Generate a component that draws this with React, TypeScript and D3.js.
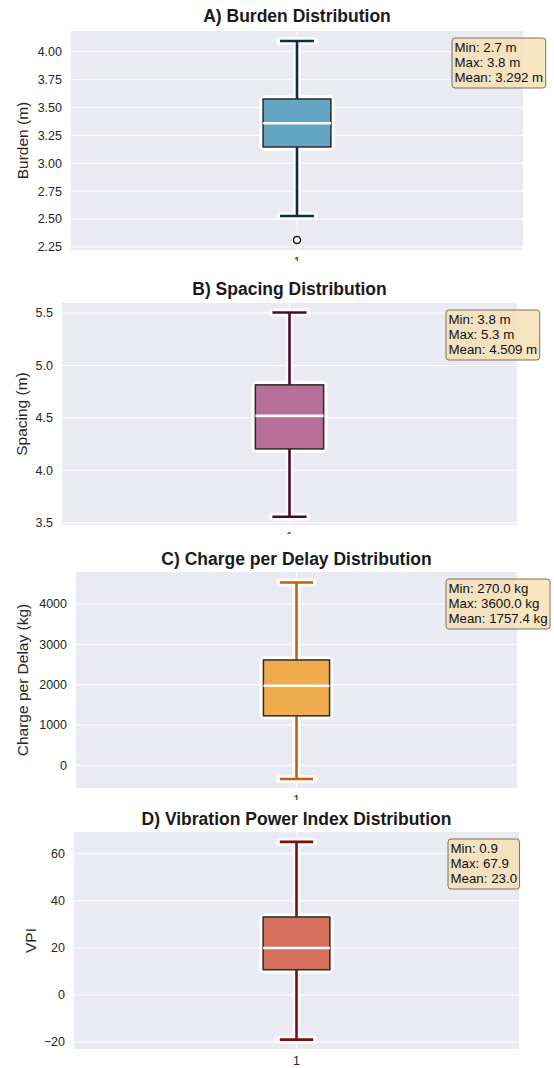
import React, { useEffect, useRef } from 'react';
import * as d3 from 'd3';

// panel texts
const panelTitles = [
  'A) Burden Distribution',
  'B) Spacing Distribution',
  'C) Charge per Delay Distribution',
  'D) Vibration Power Index Distribution'
];
const yLabels = ['Burden (m)', 'Spacing (m)', 'Charge per Delay (kg)', 'VPI'];

// box statistics
const whiskerLow = [2.528, 3.557, -341, -19.0];
const q1Values = [3.146, 4.204, 1227, 10.7];
const medianValues = [3.358, 4.519, 1974, 19.9];
const q3Values = [3.576, 4.815, 2613, 33.1];
const whiskerHigh = [4.096, 5.506, 4538, 65.0];
const outliers = [[2.313], [], [], []];

// axis limits and ticks
const yMin = [2.223, 3.478, -565, -22.97];
const yMax = [4.185, 5.596, 4797, 69.2];
const yTicks = [
  [2.25, 2.5, 2.75, 3.0, 3.25, 3.5, 3.75, 4.0],
  [3.5, 4.0, 4.5, 5.0, 5.5],
  [0, 1000, 2000, 3000, 4000],
  [-20, 0, 20, 40, 60]
];
const tickDecimals = [2, 1, 0, 0];
const xTickLabels = ['1'];

// stats annotation
const minLabels = ['Min: 2.7 m', 'Min: 3.8 m', 'Min: 270.0 kg', 'Min: 0.9'];
const maxLabels = ['Max: 3.8 m', 'Max: 5.3 m', 'Max: 3600.0 kg', 'Max: 67.9'];
const meanLabels = ['Mean: 3.292 m', 'Mean: 4.509 m', 'Mean: 1757.4 kg', 'Mean: 23.0'];

const fillColors = ['#64a5c4', '#b76e97', '#efab4c', '#d4705c'];
const whiskerColors = ['#0d2b4a', '#4a0b28', '#c0600e', '#7a0f0f'];

// panel frames (layout); the source image cuts off most x tick labels
const frames = [
  { left: 71, right: 523, top: 31, bottom: 250, clipTop: 0, clipBottom: 261, titleY: 22, labelX: 27.5 },
  { left: 62, right: 517, top: 303, bottom: 525, clipTop: 261, clipBottom: 534, titleY: 295, labelX: 26.5 },
  { left: 76, right: 517, top: 572, bottom: 788, clipTop: 534, clipBottom: 800, titleY: 565, labelX: 28.3 },
  { left: 74, right: 519, top: 832, bottom: 1049, clipTop: 800, clipBottom: 1068, titleY: 825, labelX: 36 }
];

const FONT = '"Liberation Sans", Arial, sans-serif';

const App = () => {
  const ref = useRef<SVGSVGElement | null>(null);

  useEffect(() => {
    if (!ref.current) return;
    const svg = d3.select(ref.current);
    svg.selectAll('*').remove();

    const defs = svg.append('defs');

    frames.forEach((f, i) => {
      defs.append('clipPath').attr('id', `clip-${i}`)
        .append('rect')
        .attr('x', 0).attr('y', f.clipTop)
        .attr('width', 554).attr('height', f.clipBottom - f.clipTop);

      const g = svg.append('g').attr('clip-path', `url(#clip-${i})`);

      const x = d3.scaleLinear().domain([0.5, 1.5]).range([f.left, f.right]);
      const y = d3.scaleLinear().domain([yMin[i], yMax[i]]).range([f.bottom, f.top]);

      // background
      g.append('rect')
        .attr('x', f.left).attr('y', f.top)
        .attr('width', f.right - f.left).attr('height', f.bottom - f.top)
        .attr('fill', '#eaeaf2');

      // grid
      g.append('g').selectAll('line')
        .data(yTicks[i])
        .enter().append('line')
        .attr('x1', f.left).attr('x2', f.right)
        .attr('y1', d => y(d)).attr('y2', d => y(d))
        .attr('stroke', '#ffffff').attr('stroke-width', 1);
      g.append('line')
        .attr('x1', x(1)).attr('x2', x(1))
        .attr('y1', f.top).attr('y2', f.bottom)
        .attr('stroke', '#ffffff').attr('stroke-width', 1);

      // y tick labels
      const fmt = (v: number) => d3.format(`.${tickDecimals[i]}f`)(v).replace('-', '\u2212');
      g.append('g').selectAll('text')
        .data(yTicks[i])
        .enter().append('text')
        .attr('x', f.left - 9)
        .attr('y', d => y(d))
        .attr('dy', '0.35em')
        .attr('text-anchor', 'end')
        .style('font-family', FONT).style('font-size', '12.5px')
        .attr('fill', '#262626')
        .text(d => fmt(d));

      // x tick label
      g.append('g').selectAll('text')
        .data(xTickLabels)
        .enter().append('text')
        .attr('x', (d, k) => x(k + 1))
        .attr('y', f.bottom + 16)
        .attr('text-anchor', 'middle')
        .style('font-family', FONT).style('font-size', '12.5px')
        .attr('fill', '#262626')
        .text(d => d);

      // y label
      g.append('text')
        .attr('transform', `translate(${f.labelX},${(f.top + f.bottom) / 2}) rotate(-90)`)
        .attr('text-anchor', 'middle')
        .style('font-family', FONT).style('font-size', '15.5px')
        .attr('fill', '#262626')
        .text(yLabels[i]);

      // title
      g.append('text')
        .attr('x', (f.left + f.right) / 2)
        .attr('y', f.titleY)
        .attr('text-anchor', 'middle')
        .style('font-family', FONT).style('font-size', '17.5px').style('font-weight', 'bold')
        .attr('fill', '#1a1a1a')
        .text(panelTitles[i]);

      // box plot
      const cx = x(1);
      const bw = x(1.075) - x(0.925);
      const capW = bw / 2;
      const box = g.append('g');

      const whiskerSegs = [
        [whiskerLow[i], q1Values[i]],
        [q3Values[i], whiskerHigh[i]]
      ];
      const caps = [whiskerLow[i], whiskerHigh[i]];

      // white halo
      const halo = box.append('g').attr('stroke', '#ffffff').attr('stroke-opacity', 0.85).attr('fill', 'none');
      whiskerSegs.forEach(s => {
        halo.append('line').attr('x1', cx).attr('x2', cx).attr('y1', y(s[0])).attr('y2', y(s[1]))
          .attr('stroke-width', 8).attr('stroke-linecap', 'round');
      });
      caps.forEach(c => {
        halo.append('line').attr('x1', cx - capW / 2).attr('x2', cx + capW / 2).attr('y1', y(c)).attr('y2', y(c))
          .attr('stroke-width', 8).attr('stroke-linecap', 'round');
      });
      halo.append('rect')
        .attr('x', cx - bw / 2).attr('y', y(q3Values[i]))
        .attr('width', bw).attr('height', y(q1Values[i]) - y(q3Values[i]))
        .attr('rx', 2)
        .attr('stroke-width', 8);

      // whiskers and caps
      whiskerSegs.forEach(s => {
        box.append('line').attr('x1', cx).attr('x2', cx).attr('y1', y(s[0])).attr('y2', y(s[1]))
          .attr('stroke', whiskerColors[i]).attr('stroke-width', 2.6);
      });
      caps.forEach(c => {
        box.append('line').attr('x1', cx - capW / 2).attr('x2', cx + capW / 2).attr('y1', y(c)).attr('y2', y(c))
          .attr('stroke', whiskerColors[i]).attr('stroke-width', 2.6);
      });

      // box
      box.append('rect')
        .attr('x', cx - bw / 2).attr('y', y(q3Values[i]))
        .attr('width', bw).attr('height', y(q1Values[i]) - y(q3Values[i]))
        .attr('fill', fillColors[i])
        .attr('stroke', '#2a2a2a').attr('stroke-width', 1.5);

      // median
      box.append('line')
        .attr('x1', cx - bw / 2).attr('x2', cx + bw / 2)
        .attr('y1', y(medianValues[i])).attr('y2', y(medianValues[i]))
        .attr('stroke', '#ffffff').attr('stroke-width', 2.6);

      // outliers
      box.selectAll('circle.out')
        .data(outliers[i])
        .enter().append('circle')
        .attr('class', 'out')
        .attr('cx', cx).attr('cy', d => y(d)).attr('r', 3.5)
        .attr('fill', '#ffffff').attr('stroke', '#1a1a1a').attr('stroke-width', 1.5);

      // stats annotation
      const ann = g.append('g');
      const annX = f.right - 71;
      const annY = f.top + 7;
      const annRect = ann.append('rect')
        .attr('x', annX).attr('y', annY)
        .attr('height', 50).attr('rx', 3)
        .attr('fill', '#f5deb3').attr('fill-opacity', 0.8)
        .attr('stroke', '#7d705a').attr('stroke-width', 1);
      const lines = [minLabels[i], maxLabels[i], meanLabels[i]];
      const texts = ann.selectAll('text')
        .data(lines)
        .enter().append('text')
        .attr('x', annX + 2.5)
        .attr('y', (d, k) => annY + 13.5 + k * 15)
        .style('font-family', FONT).style('font-size', '13.3px')
        .attr('fill', '#111111')
        .text(d => d);
      let maxW = 0;
      texts.each(function () {
        const w = (this as SVGTextElement).getComputedTextLength();
        if (w > maxW) maxW = w;
      });
      annRect.attr('width', maxW + 5);
    });

    return () => {
      if (ref.current) d3.select(ref.current).selectAll('*').remove();
    };
  }, []);

  return (
    <div style={{ position: 'absolute', left: 0, top: 0 }}>
      <svg ref={ref} width={554} height={1068} style={{ display: 'block', background: '#ffffff' }} />
    </div>
  );
};

export default App;
